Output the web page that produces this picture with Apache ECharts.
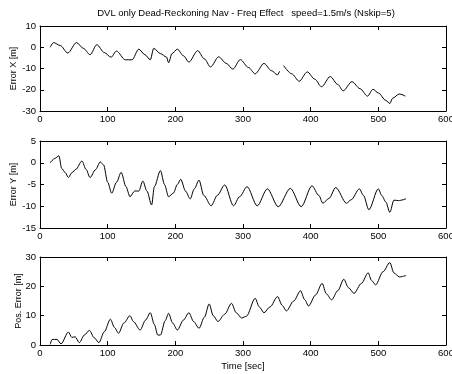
<!DOCTYPE html>
<html><head><meta charset="utf-8">
<script src="https://cdn.jsdelivr.net/npm/echarts@6/dist/echarts.min.js"></script>
<style>html,body{margin:0;padding:0;background:#fff}#c{width:452px;height:374px}</style>
</head><body><div id="c"></div>
<script>
const titleText = 'DVL only Dead-Reckoning Nav - Freq Effect   speed=1.5m/s (Nskip=5)';
const xAxisName = 'Time [sec]';
const yNames = ['Error X [m]', 'Error Y [m]', 'Pos. Error [m]'];
const timeTicks = [0, 100, 200, 300, 400, 500, 600];
const errXTicks = [-30, -20, -10, 0, 10];
const errYTicks = [-15, -10, -5, 0, 5];
const posTicks = [0, 10, 20, 30];

const tX = [15,20,30,41,54,64,74,84,95,105,113,126,136,146,155,163,168,178,187,190,195,203,212,220,233,243,252,264,275,285,296,308,318,331,342,351,354,357,360,372,383,395,406,416,429,440,448,461,473,484,492,500,511,517,521,531,540];
const errX = [0,2.2,0.8,-2.7,2.2,-0.5,-3.5,1.2,-2.5,-4.7,-1.8,-5.9,-5.9,-0.9,-3.5,-5.9,-0.5,-3,-4.6,-7.3,-3,-0.9,-4,-7,-1.6,-5.5,-9.3,-4.5,-7.5,-10.3,-5.8,-9.5,-12.5,-7.6,-11,-13,-11.3,'-',-8.6,-12.5,-16,-11.6,-15,-18.6,-13.8,-17.5,-20.5,-16.2,-19.5,-23,-19.8,-21.5,-25,-26.5,-24,-22,-23];

const tY = [15,22,28,32,37,42,47,53,62,68,74,82,89,94,100,106,113,120,127,133,140,146,152,158,165,169,178,184,190,197,203,208,215,222,228,235,242,253,262,273,286,295,306,321,336,352,370,386,402,412,418,427,437,453,460,472,478,486,500,505,511,517,523,530,541];
const errY = [0,1.0,1.6,-1.3,-2.2,-3.4,-2.3,-1.5,0.4,-1.5,-3.4,-1.6,0.2,-0.5,-4.5,-7,-4.5,-2.2,-5.5,-7.8,-6.5,-6.5,-4.2,-6.5,-9.7,-5.5,-1.8,-5,-7.8,-7,-5,-3.8,-6.5,-8.3,-6,-4.0,-7.5,-9.9,-7.5,-5.1,-9.9,-7.8,-5.5,-9.9,-6.0,-10.1,-5.9,-10.1,-5.3,-7.5,-9.3,-8.2,-5.7,-9.3,-8.5,-6.0,-7.5,-10.8,-6.0,-7.5,-9,-11.4,-8.6,-8.7,-8.3];

const tP = [15,18,25,31,42,47,52,58,66,73,80,87,95,104,110,116,124,133,138,148,156,163,169,174,178,185,190,196,203,212,220,227,235,243,250,256,263,273,283,290,298,305,318,324,331,340,351,358,364,375,385,391,397,407,417,423,431,440,449,456,464,475,485,490,496,507,517,523,531,541];
const posErr = [0.2,1.9,1.9,0.4,4.4,2.6,2.8,0.8,3.5,5.0,2.5,0.8,4.5,8.8,6,4.0,7.5,10.0,8.0,5.1,8.5,11.0,7,3.4,3.4,8.3,10.8,7.5,5.1,8.5,11.0,8,5.7,9.5,14.0,10,8.0,10.5,14.2,11,9.2,9.8,15.9,13,11.0,13,16.5,13.5,11.6,15,18.5,15.5,13.3,17,21.0,17.5,15.4,18.5,22.4,19.5,17.6,21,24.6,22,20.5,25,28.1,24.6,23.2,23.7];

const FONT = 'Liberation Sans, Arial, Helvetica, sans-serif';
const grids = [
  {left: 40, right: 6, top: 26, height: 85},
  {left: 40, right: 6, top: 141, height: 87},
  {left: 40, right: 6, top: 257, height: 88}
].map(g => Object.assign({outerBoundsMode: 'none', containLabel: false}, g));
const yTickSets = [errXTicks, errYTicks, posTicks];
const seriesData = [[tX, errX], [tY, errY], [tP, posErr]];

const lineStyle = {color: '#000', width: 1};
const xAxes = [], yAxes = [], series = [];
grids.forEach((g, i) => {
  const baseX = {
    type: 'value', gridIndex: i,
    min: timeTicks[0], max: timeTicks[timeTicks.length - 1],
    interval: timeTicks[1] - timeTicks[0],
    axisLine: {show: true, onZero: false, lineStyle},
    axisTick: {show: true, inside: true, length: 4, lineStyle},
    splitLine: {show: false}
  };
  xAxes.push(Object.assign({}, baseX, {
    position: 'bottom',
    axisLabel: {show: true, color: '#000', fontSize: 9.5, fontFamily: FONT, margin: 3},
    name: i === 2 ? xAxisName : '', nameLocation: 'middle', nameGap: 16, nameMoveOverlap: false,
    nameTextStyle: {color: '#000', fontSize: 9.5, fontFamily: FONT}
  }));
  xAxes.push(Object.assign({}, baseX, {position: 'top', axisLabel: {show: false}}));
  const yt = yTickSets[i];
  const baseY = {
    type: 'value', gridIndex: i,
    min: yt[0], max: yt[yt.length - 1], interval: yt[1] - yt[0],
    axisLine: {show: true, onZero: false, lineStyle},
    axisTick: {show: true, inside: true, length: 4, lineStyle},
    splitLine: {show: false}
  };
  yAxes.push(Object.assign({}, baseY, {
    position: 'left',
    axisLabel: {show: true, color: '#000', fontSize: 9.5, fontFamily: FONT, margin: 4},
    name: yNames[i], nameLocation: 'middle', nameGap: i === 2 ? 17 : 22, nameMoveOverlap: false,
    nameTextStyle: {color: '#000', fontSize: 9, fontFamily: FONT}
  }));
  yAxes.push(Object.assign({}, baseY, {position: 'right', axisLabel: {show: false}}));
  const [ts, vs] = seriesData[i];
  series.push({
    type: 'line', xAxisIndex: i * 2, yAxisIndex: i * 2,
    data: ts.map((t, k) => [t, vs[k]]),
    showSymbol: false, symbol: 'none', smooth: 0.3, smoothMonotone: 'x',
    connectNulls: false, lineStyle: {color: '#000', width: 1}, animation: false
  });
});

const chart = echarts.init(document.getElementById('c'), null, {renderer: 'canvas'});
chart.setOption({
  backgroundColor: '#fff',
  animation: false,
  title: {text: titleText, left: 241, textAlign: 'center', top: 3,
    textStyle: {color: '#000', fontSize: 9.5, fontWeight: 'normal', fontFamily: FONT}},
  grid: grids, xAxis: xAxes, yAxis: yAxes, series
});
</script></body></html>
